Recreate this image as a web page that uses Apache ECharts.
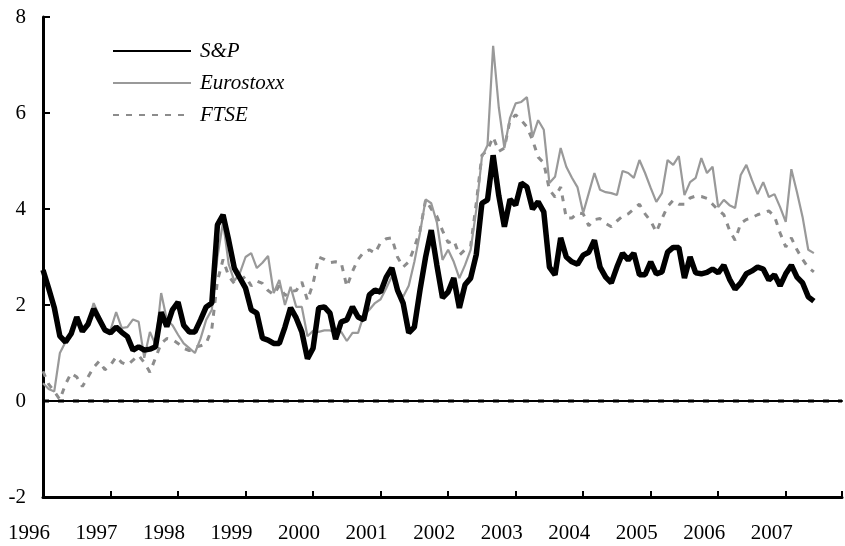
<!DOCTYPE html>
<html>
<head>
<meta charset="utf-8">
<script src="https://cdn.jsdelivr.net/npm/echarts@6/dist/echarts.min.js"></script>
<style>
  html, body { margin: 0; padding: 0; background: #fff; }
  #chart { width: 845px; height: 546px; }
</style>
</head>
<body>
<div id="chart"></div>
<script>
// monthly values, Jan 1996 - Jun 2007
const yearLabels = ['1996', '1997', '1998', '1999', '2000', '2001',
  '2002', '2003', '2004', '2005', '2006', '2007'];

const sp = [
  2.73, 2.35, 1.95, 1.35, 1.23, 1.4, 1.75, 1.45, 1.6, 1.92, 1.7, 1.48,
  1.42, 1.54, 1.43, 1.34, 1.06, 1.13, 1.06, 1.08, 1.13, 1.85, 1.55, 1.9,
  2.06, 1.58, 1.44, 1.44, 1.69, 1.96, 2.04, 3.67, 3.88, 3.35, 2.77, 2.56,
  2.35, 1.9, 1.83, 1.31, 1.27, 1.2, 1.2, 1.54, 1.94, 1.73, 1.44, 0.88,
  1.1, 1.94, 1.96, 1.83, 1.29, 1.65, 1.69, 1.96, 1.75, 1.69, 2.21, 2.31,
  2.27, 2.58, 2.77, 2.31, 2.04, 1.42, 1.54, 2.31, 3.0, 3.56, 2.83, 2.15,
  2.27, 2.56, 1.94, 2.42, 2.56, 3.05, 4.12, 4.19, 5.12, 4.28, 3.63, 4.2,
  4.08, 4.54, 4.46, 4.0, 4.15, 3.94, 2.79, 2.63, 3.4, 3.0, 2.9, 2.85,
  3.04, 3.1, 3.35, 2.79, 2.58, 2.46, 2.79, 3.08, 2.94, 3.08, 2.63, 2.63,
  2.9, 2.65, 2.69, 3.1, 3.2, 3.2, 2.56, 3.0, 2.67, 2.65, 2.68, 2.75,
  2.67, 2.83, 2.54, 2.33, 2.46, 2.65, 2.71, 2.79, 2.75, 2.52, 2.63, 2.4,
  2.65, 2.83, 2.58, 2.46, 2.17, 2.08
];

const eurostoxx = [
  0.37, 0.25, 0.2, 1.0, 1.23, 1.38, 1.73, 1.44, 1.62, 2.04, 1.77, 1.48,
  1.48, 1.85, 1.52, 1.54, 1.7, 1.65, 0.9, 1.44, 1.17, 2.25, 1.7, 1.58,
  1.38, 1.2, 1.1, 1.0, 1.3, 1.69, 1.9, 3.0, 3.73, 2.85, 2.5, 2.67,
  3.0, 3.08, 2.77, 2.88, 3.02, 2.25, 2.52, 2.0, 2.38, 1.96, 1.96, 1.35,
  1.46, 1.44, 1.47, 1.47, 1.42, 1.44, 1.25, 1.42, 1.42, 1.79, 1.9, 2.04,
  2.12, 2.35, 2.6, 2.33, 2.17, 2.4, 2.9, 3.5, 4.2, 4.12, 3.72, 2.94,
  3.15, 2.9, 2.56, 2.83, 3.15, 3.98, 5.08, 5.33, 7.4, 6.12, 5.27, 5.9,
  6.2, 6.23, 6.33, 5.5, 5.85, 5.65, 4.54, 4.67, 5.27, 4.88, 4.65, 4.45,
  3.92, 4.33, 4.75, 4.4, 4.35, 4.33, 4.29, 4.79, 4.75, 4.65, 5.02, 4.75,
  4.44, 4.15, 4.33, 5.02, 4.92, 5.1, 4.29, 4.56, 4.65, 5.06, 4.75, 4.88,
  4.04, 4.19, 4.08, 4.02, 4.71, 4.92, 4.6, 4.31, 4.56, 4.25, 4.31, 4.04,
  3.73, 4.83, 4.35, 3.83, 3.15, 3.08
];

const ftse = [
  0.62, 0.35, 0.2, 0.03, 0.35, 0.58, 0.5, 0.3, 0.5, 0.7, 0.83, 0.65,
  0.75, 0.92, 0.8, 0.75, 0.85, 0.95, 0.8, 0.6, 0.9, 1.2, 1.3, 1.28,
  1.2, 1.1, 1.05, 1.12, 1.15, 1.2, 1.5, 2.5, 2.95, 2.6, 2.45, 2.5,
  2.6, 2.4, 2.5, 2.45, 2.3, 2.22, 2.4, 2.2, 2.28, 2.3, 2.48, 2.1,
  2.45, 3.0, 2.95, 2.88, 2.9, 2.88, 2.38, 2.7, 2.95, 3.1, 3.15, 3.08,
  3.3, 3.38, 3.4, 3.0, 2.79, 2.9, 3.2, 3.55, 4.19, 4.0, 3.85, 3.55,
  3.3, 3.35, 3.04, 3.15, 3.22, 4.12, 5.12, 5.23, 5.5, 5.2, 5.27, 5.85,
  5.96, 5.85, 5.71, 5.44, 5.08, 4.96, 4.4, 4.25, 4.46, 3.81, 3.81, 3.92,
  3.9, 3.65, 3.78, 3.8, 3.7, 3.63, 3.75, 3.85, 3.9, 4.0, 4.1, 3.9,
  3.75, 3.52, 3.8, 4.05, 4.18, 4.1, 4.1, 4.23, 4.27, 4.26, 4.22, 4.1,
  3.98, 3.88, 3.56, 3.35, 3.7, 3.78, 3.82, 3.88, 3.92, 3.96, 3.85, 3.5,
  3.21, 3.4, 3.15, 2.95, 2.78, 2.69
];

// zero reference line, spans the whole x range
const zeroLine = [[0, 0], [142, 0]];

const font = 'Liberation Serif';
const toPoints = (arr) => arr.map((v, i) => [i, v]);

const chart = echarts.init(document.getElementById('chart'), null, {renderer: 'canvas'});

chart.setOption({
  animation: false,
  backgroundColor: '#fff',
  grid: {left: 43, right: 0, top: 17, bottom: 49},
  legend: {
    orient: 'vertical',
    left: 112,
    top: 40,
    padding: 0,
    itemWidth: 78,
    itemHeight: 14,
    itemGap: 10,
    // hide the circle marker, keep only the line sample
    itemStyle: {opacity: 0},
    textStyle: {
      fontFamily: font,
      fontStyle: 'italic',
      fontSize: 21,
      lineHeight: 22,
      color: '#000',
      padding: [0, 0, 0, 4],
    },
    data: ['S&P', 'Eurostoxx', 'FTSE'],
  },
  xAxis: [
    {
      type: 'value',
      min: 0,
      max: 142,
      interval: 12,
      splitLine: {show: false},
      axisLine: {onZero: false, lineStyle: {color: '#000', width: 3}},
      axisTick: {inside: true, length: 6, lineStyle: {color: '#000', width: 2}},
      axisLabel: {
        fontFamily: font,
        fontSize: 21,
        color: '#000',
        margin: 26,
        padding: [0, 28, 0, 0],
        formatter: (v) => (v % 12 === 0 && yearLabels[v / 12]) || '',
      },
    },
    {
      type: 'value',
      position: 'top',
      min: 0,
      max: 142,
      axisLine: {show: true, lineStyle: {color: '#000', width: 2}},
      axisTick: {show: false},
      axisLabel: {show: false},
      splitLine: {show: false},
    },
  ],
  yAxis: {
    type: 'value',
    min: -2,
    max: 8,
    interval: 2,
    splitLine: {show: false},
    axisLine: {show: true, lineStyle: {color: '#000', width: 3}},
    axisTick: {show: true, inside: true, length: 7, lineStyle: {color: '#000', width: 2}},
    axisLabel: {fontFamily: font, fontSize: 21, color: '#000', margin: 17},
  },
  series: [
    {
      name: 'zero',
      type: 'line',
      symbol: 'none',
      silent: true,
      z: 1,
      lineStyle: {color: '#000', width: 3, type: [6, 9]},
      data: zeroLine,
    },
    {
      name: 'S&P',
      type: 'line',
      symbol: 'none',
      z: 4,
      lineStyle: {color: '#000', width: 5.5},
      itemStyle: {color: '#000'},
      data: toPoints(sp),
    },
    {
      name: 'Eurostoxx',
      type: 'line',
      symbol: 'none',
      z: 3,
      lineStyle: {color: '#999', width: 2.2},
      itemStyle: {color: '#999'},
      data: toPoints(eurostoxx),
    },
    {
      name: 'FTSE',
      type: 'line',
      symbol: 'none',
      z: 2,
      lineStyle: {color: '#8c8c8c', width: 3, type: [6, 7]},
      itemStyle: {color: '#8c8c8c'},
      data: toPoints(ftse),
    },
  ],
});
</script>
</body>
</html>
